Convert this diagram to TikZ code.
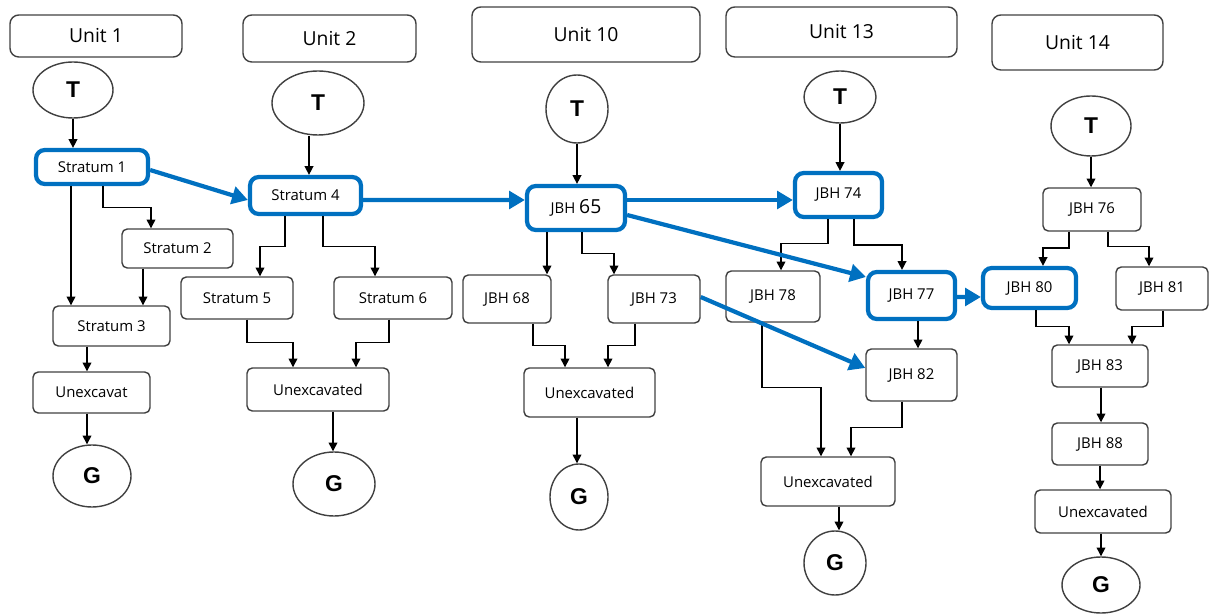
\documentclass[tikz,border=0pt]{standalone}
\usepackage{fontspec}
\setmainfont{Open Sans}
\newfontfamily\tgfont{Liberation Sans}
\usetikzlibrary{arrows.meta,calc,shapes.geometric}
\definecolor{hblue}{RGB}{0,112,192}
\definecolor{edge}{RGB}{64,64,64}

\begin{document}
\begin{tikzpicture}
    [x=0.02cm, y=-0.02cm,
     sz/.style 2 args={minimum width=#1*0.02cm, minimum height=#2*0.02cm},
     box/.style={rectangle, draw=edge, rounded corners=3pt, line width=0.8pt, inner sep=0pt, font=\fontsize{8.5}{10}\selectfont},
     unit/.style={box, rounded corners=5pt, font=\fontsize{11}{13}\selectfont},
     hot/.style={box, draw=hblue, line width=2.4pt, rounded corners=5pt},
     tg/.style={ellipse, draw=edge, line width=0.8pt, inner sep=0pt, font=\tgfont\bfseries\fontsize{13}{15}\selectfont},
     arr/.style={-{Triangle[length=5pt,width=5pt]}, line width=0.8pt},
     seq/.style={-{Triangle[length=9pt,width=10pt]}, draw=hblue, line width=2.4pt}]

    \useasboundingbox (0,0) rectangle (1209,614);

    \node[unit, sz={172}{42}] (u1) at (96,36) {Unit 1};
    \node[unit, sz={173}{47}] (u2) at (329.5,38.5) {Unit 2};
    \node[unit, sz={228}{55}] (u10) at (586,34.5) {Unit 10};
    \node[unit, sz={231}{50}] (u13) at (841.5,32) {Unit 13};
    \node[unit, sz={171}{55}] (u14) at (1077.5,42.5) {Unit 14};

    \node[tg, sz={80}{56}] (t1) at (73,90) {T};
    \node[tg, sz={92}{64}] (t2) at (318,103) {T};
    \node[tg, sz={62}{68}] (t10) at (577,109) {T};
    \node[tg, sz={72}{52}] (t13) at (840,97) {T};
    \node[tg, sz={80}{60}] (t14) at (1091,126) {T};

    \node[tg, sz={78}{62}] (g1) at (92,476) {G};
    \node[tg, sz={82}{64}] (g2) at (334,484) {G};
    \node[tg, sz={58}{66}] (g10) at (579,497) {G};
    \node[tg, sz={62}{64}] (g13) at (835,563) {G};
    \node[tg, sz={78}{56}] (g14) at (1101,585) {G};

    \node[hot, sz={112}{34}] (s1) at (92,167) {Stratum 1};
    \node[box, sz={111}{39}] (s2) at (177.5,248.5) {Stratum 2};
    \node[box, sz={117}{40}] (s3) at (111.5,326) {Stratum 3};
    \node[box, sz={117}{41}] (ux1) at (91.5,392.5) {Unexcavat};

    \node[hot, sz={111}{37}] (s4) at (305.5,195.5) {Stratum 4};
    \node[box, sz={112}{42}] (s5) at (237,298) {Stratum 5};
    \node[box, sz={118}{42}] (s6) at (393,298) {Stratum 6};
    \node[box, sz={142}{43}] (ux2) at (318,389.5) {Unexcavated};

    \node[hot, sz={98}{44}] (j65) at (576,208) {JBH {\fontsize{11}{13}\selectfont 65}};
    \node[box, sz={88}{48}] (j68) at (507,299) {JBH 68};
    \node[box, sz={92}{48}] (j73) at (654,299) {JBH 73};
    \node[box, sz={131}{49}] (ux10) at (589.5,392.5) {Unexcavated};

    \node[hot, sz={87}{44}] (j74) at (838.5,195) {JBH 74};
    \node[box, sz={94}{51}] (j78) at (773,296.5) {JBH 78};
    \node[hot, sz={87}{47}] (j77) at (911.5,295.5) {JBH 77};
    \node[box, sz={91}{52}] (j82) at (911.5,375) {JBH 82};
    \node[box, sz={134}{49}] (ux13) at (828,481.5) {Unexcavated};

    \node[box, sz={98}{43}] (j76) at (1092,209.5) {JBH 76};
    \node[hot, sz={93}{40}] (j80) at (1029.5,288) {JBH 80};
    \node[box, sz={92}{43}] (j81) at (1162,288.5) {JBH 81};
    \node[box, sz={96}{42}] (j83) at (1100,366) {JBH 83};
    \node[box, sz={96}{42}] (j88) at (1100,444) {JBH 88};
    \node[box, sz={136}{43}] (ux14) at (1103,511.5) {Unexcavated};

    \draw[arr] (t1.south) -- (t1.south |- s1.north);
    \draw[arr] ($(s1.south)+(-21,0)$) coordinate (p) -- (p |- s3.north);
    \draw[arr] ($(s1.south)+(11,0)$) |- ($(s2.north)+(-26.5,-21)$) -- ($(s2.north)+(-26.5,0)$);
    \draw[arr] ($(s2.south)+(-34.5,0)$) coordinate (p) -- (p |- s3.north);
    \draw[arr] ($(s3.south)+(-24.5,0)$) coordinate (p) -- (p |- ux1.north);
    \draw[arr] ($(ux1.south)+(-4.5,0)$) coordinate (p) -- (p |- g1.north);

    \draw[arr] ($(s4.north)+(3.5,0)$) ++(0,-39) coordinate (p) -- (p |- s4.north);
    \draw[arr] ($(s4.south)+(-20.5,0)$) |- ($(s5.north)+(23,-30)$) -- ($(s5.north)+(23,0)$);
    \draw[arr] ($(s4.south)+(17.5,0)$) |- ($(s6.north)+(-18,-30)$) -- ($(s6.north)+(-18,0)$);
    \draw[arr] ($(s5.south)+(10,0)$) |- ($(ux2.north)+(-25,-25)$) -- ($(ux2.north)+(-25,0)$);
    \draw[arr] ($(s6.south)+(-4,0)$) |- ($(ux2.north)+(38,-25)$) -- ($(ux2.north)+(38,0)$);
    \draw[arr] ($(ux2.south)+(15,0)$) coordinate (p) -- (p |- g2.north);

    \draw[arr] (t10.south) -- (t10.south |- j65.north);
    \draw[arr] ($(j65.south)+(-29,0)$) coordinate (p) -- (p |- j68.north);
    \draw[arr] ($(j65.south)+(6,0)$) |- ($(j73.north)+(-40,-21)$) -- ($(j73.north)+(-40,0)$);
    \draw[arr] ($(j68.south)+(26,0)$) |- ($(ux10.north)+(-24.5,-22)$) -- ($(ux10.north)+(-24.5,0)$);
    \draw[arr] ($(j73.south)+(-19,0)$) |- ($(ux10.north)+(18.5,-22)$) -- ($(ux10.north)+(18.5,0)$);
    \draw[arr] ($(ux10.south)+(-12.5,0)$) coordinate (p) -- (p |- g10.north);

    \draw[arr] (t13.south) -- (t13.south |- j74.north);
    \draw[arr] ($(j74.south)+(-10.5,0)$) |- ($(j78.north)+(8,-27)$) -- ($(j78.north)+(8,0)$);
    \draw[arr] ($(j74.south)+(15.5,0)$) |- ($(j77.north)+(-9.5,-25)$) -- ($(j77.north)+(-9.5,0)$);
    \draw[arr] ($(j77.south)+(6.5,0)$) coordinate (p) -- (p |- j82.north);
    \draw[arr] ($(j78.south)+(-11,0)$) |- ($(ux13.north)+(-7,-69)$) -- ($(ux13.north)+(-7,0)$);
    \draw[arr] ($(j82.south)+(-9.5,0)$) |- ($(ux13.north)+(23,-29)$) -- ($(ux13.north)+(23,0)$);
    \draw[arr] ($(ux13.south)+(11,0)$) coordinate (p) -- (p |- g13.north);

    \draw[arr] (t14.south) -- (t14.south |- j76.north);
    \draw[arr] ($(j76.south)+(-23,0)$) |- ($(j80.north)+(13.5,-18)$) -- ($(j80.north)+(13.5,0)$);
    \draw[arr] ($(j76.south)+(16,0)$) |- ($(j81.north)+(-13,-20)$) -- ($(j81.north)+(-13,0)$);
    \draw[arr] ($(j80.south)+(6.5,0)$) |- ($(j83.north)+(-31,-18)$) -- ($(j83.north)+(-31,0)$);
    \draw[arr] ($(j81.south)+(1,0)$) |- ($(j83.north)+(32,-18)$) -- ($(j83.north)+(32,0)$);
    \draw[arr] ($(j83.south)+(1,0)$) coordinate (p) -- (p |- j88.north);
    \draw[arr] (j88.south) -- (j88.south |- ux14.north);
    \draw[arr] ($(ux14.south)+(-2,0)$) coordinate (p) -- (p |- g14.north);

    \draw[seq] ($(s1.east)+(0,3)$) -- ($(s4.west)+(0,4.5)$);
    \draw[seq] ($(s4.east)+(0,4.5)$) -- ($(j65.west)+(0,-8)$);
    \draw[seq] ($(j65.east)+(0,-8)$) -- ($(j74.west)+(0,5)$);
    \draw[seq] ($(j65.east)+(0,7)$) -- ($(j77.west)+(0,-18.5)$);
    \draw[seq] ($(j73.east)+(0,-2)$) -- ($(j82.west)+(0,-7)$);
    \draw[seq] ($(j77.east)+(0,1.5)$) -- ($(j80.west)+(0,9)$);
\end{tikzpicture}
\end{document}
